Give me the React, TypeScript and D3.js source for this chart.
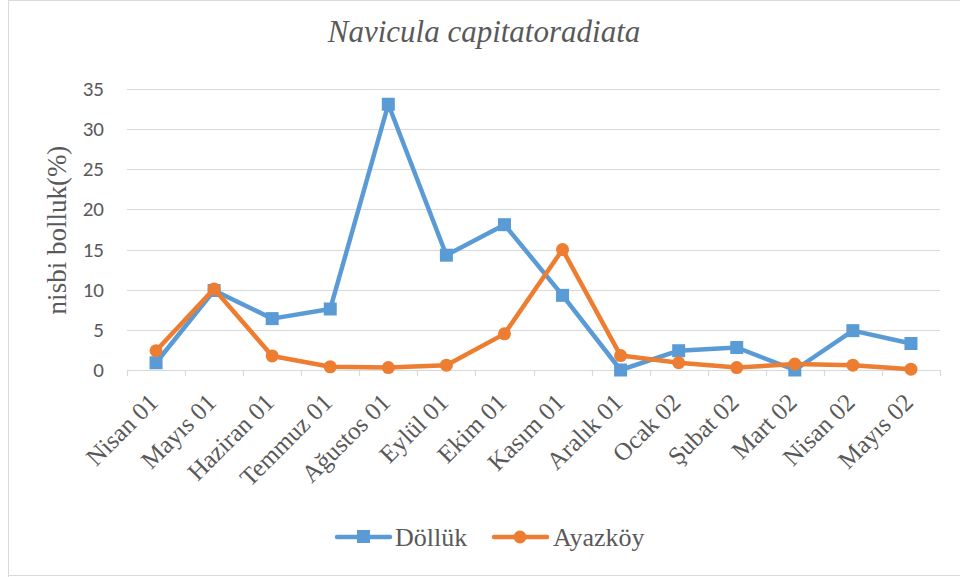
import React from "react";
import * as d3 from "d3";

const categories = [
  "Nisan 01", "Mayıs 01", "Haziran 01", "Temmuz 01", "Ağustos 01", "Eylül 01", "Ekim 01",
  "Kasım 01", "Aralık 01", "Ocak 02", "Şubat 02", "Mart 02", "Nisan 02", "Mayıs 02",
];
const dollukValues = [0.9, 9.9, 6.4, 7.6, 33.1, 14.3, 18.1, 9.3, 0.0, 2.4, 2.8, 0.0, 4.9, 3.3];
const ayazkoyValues = [2.4, 10.1, 1.75, 0.4, 0.3, 0.6, 4.5, 15.0, 1.8, 0.9, 0.3, 0.75, 0.6, 0.1];
const yTicks = [0, 5, 10, 15, 20, 25, 30, 35];
const seriesNames = ["Döllük", "Ayazköy"];

const W = 960;
const H = 577;
const BLUE = "#5B9BD5";
const ORANGE = "#ED7D31";
const TEXT = "#595959";
const GRID = "#D9D9D9";

const serifStyle = { fontFamily: '"Liberation Serif", "Times New Roman", serif' };
const sansStyle = { fontFamily: 'Carlito, Calibri, Lato, sans-serif' };

export default function App() {
  const x = d3.scaleBand<string>().domain(categories).range([127, 940]).padding(0);
  const y = d3.scaleLinear().domain([0, 35]).range([370, 89]);
  const cx = (c: string) => (x(c) as number) + x.bandwidth() / 2;
  const line = d3
    .line<number>()
    .x((_, i) => cx(categories[i]))
    .y((d) => y(d));

  return (
    <svg
      width={W}
      height={H}
      style={{ position: "absolute", left: 0, top: 0, background: "#fff" }}
    >
      <rect x={0} y={0} width={W} height={H} fill="#fff" />
      {/* chart border */}
      <path d={`M8.5,${H} V0.5 H${W}`} fill="none" stroke={GRID} strokeWidth={1} />
      <path d={`M8.5,575.5 H${W}`} fill="none" stroke={GRID} strokeWidth={1} />

      {/* title */}
      <text
        x={484}
        y={42}
        textAnchor="middle"
        style={{ ...serifStyle, fontStyle: "italic", fontSize: 31 }}
        fill={TEXT}
      >
        Navicula capitatoradiata
      </text>

      {/* gridlines */}
      {yTicks.map((t) => (
        <line
          key={t}
          x1={127}
          x2={940}
          y1={Math.round(y(t)) + 0.5}
          y2={Math.round(y(t)) + 0.5}
          stroke={GRID}
          strokeWidth={1.2}
        />
      ))}
      {/* category tick marks */}
      {categories.map((c) => (
        <line
          key={c}
          x1={Math.round(x(c) as number) + 0.5}
          x2={Math.round(x(c) as number) + 0.5}
          y1={370}
          y2={376}
          stroke={GRID}
          strokeWidth={1.2}
        />
      ))}
      <line x1={940.5} x2={940.5} y1={370} y2={376} stroke={GRID} strokeWidth={1.2} />

      {/* y tick labels */}
      {yTicks.map((t) => (
        <text
          key={t}
          x={104}
          y={y(t) + 7}
          textAnchor="end"
          style={{ ...sansStyle, fontSize: 21 }}
          fill={TEXT}
        >
          {t}
        </text>
      ))}

      {/* y axis label */}
      <text
        transform={`translate(66,230) rotate(-90)`}
        textAnchor="middle"
        style={{ ...serifStyle, fontSize: 27 }}
        fill={TEXT}
      >
        nisbi bolluk(%)
      </text>

      {/* x labels */}
      {categories.map((c) => (
        <text
          key={c}
          transform={`translate(${cx(c) + 3.5},404) rotate(-45)`}
          textAnchor="end"
          style={{ ...serifStyle, fontSize: 25 }}
          fill={TEXT}
        >
          {c}
        </text>
      ))}

      {/* lines */}
      <path d={line(dollukValues) || ""} fill="none" stroke={BLUE} strokeWidth={4.5} strokeLinejoin="round" strokeLinecap="round" />
      {dollukValues.map((v, i) => (
        <rect
          key={i}
          x={cx(categories[i]) - 6.5}
          y={y(v) - 6.5}
          width={13}
          height={13}
          fill={BLUE}
        />
      ))}
      <path d={line(ayazkoyValues) || ""} fill="none" stroke={ORANGE} strokeWidth={4.5} strokeLinejoin="round" strokeLinecap="round" />
      {ayazkoyValues.map((v, i) => (
        <circle key={i} cx={cx(categories[i])} cy={y(v)} r={6.5} fill={ORANGE} />
      ))}

      {/* legend */}
      <g>
        <line x1={337} x2={390} y1={537} y2={537} stroke={BLUE} strokeWidth={4.5} strokeLinecap="round" />
        <rect x={357} y={530} width={13} height={13} fill={BLUE} />
        <text x={395} y={546} style={{ ...serifStyle, fontSize: 26 }} fill={TEXT}>
          {seriesNames[0]}
        </text>
        <line x1={494} x2={547} y1={537} y2={537} stroke={ORANGE} strokeWidth={4.5} strokeLinecap="round" />
        <circle cx={520} cy={537} r={6.5} fill={ORANGE} />
        <text x={553} y={546} style={{ ...serifStyle, fontSize: 26 }} fill={TEXT}>
          {seriesNames[1]}
        </text>
      </g>
    </svg>
  );
}
